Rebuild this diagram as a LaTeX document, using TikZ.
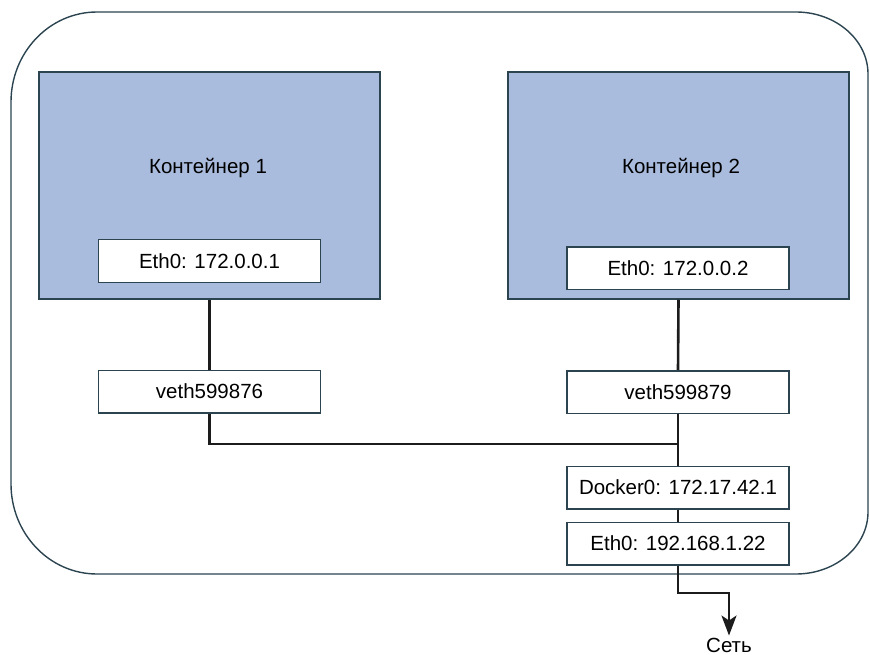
\documentclass[tikz,border=0pt]{standalone}
\usepackage{fontspec}
\setmainfont{Liberation Sans}
\usetikzlibrary{arrows.meta,calc}
\definecolor{contfill}{HTML}{A9BCDD}
\definecolor{boxline}{HTML}{2B4450}
\definecolor{wire}{HTML}{1C1C1C}
\begin{document}
\begin{tikzpicture}[x=1pt,y=-1pt,
  container/.style={draw=boxline,line width=1.5pt,fill=contfill,minimum width=341pt,minimum height=227pt,inner sep=0pt},
  ifbox/.style={draw=boxline,line width=1.5pt,fill=white,minimum width=222pt,minimum height=42.5pt,inner sep=0pt,font=\fontsize{20.5}{24}\selectfont},
  lbl/.style={font=\fontsize{20.5}{24}\selectfont,inner sep=0pt},
  wireline/.style={draw=wire,line width=2.6pt},
  outer/.style={draw=boxline,line width=1.4pt}]
\useasboundingbox (0,0) rectangle (870,655);
% outer rounded frame
\draw[outer] (97,12) -- (796,12)
  .. controls (835.7,12) and (868,39.8) .. (868,74)
  -- (868,512)
  .. controls (868,546.2) and (835.7,574) .. (796,574)
  -- (97,574)
  .. controls (49.5,574) and (11,533.7) .. (11,484)
  -- (11,102)
  .. controls (11,52.3) and (49.5,12) .. (97,12) -- cycle;
% containers
\node[container] (c1) at (209.5,185.5) {};
\node[container] (c2) at (678.5,185.5) {};
\node[lbl] (t1) at (208,168) {Контейнер 1};
\node[lbl] (t2) at (681,168) {Контейнер 2};
\node[ifbox] (e1) at (209.5,261) {Eth0: 172.0.0.1};
\node[ifbox] (e2) at (678,268) {Eth0: 172.0.0.2};
\node[ifbox] (v1) at (209.5,391.5) {veth599876};
\node[ifbox] (v2) at (678,392) {veth599879};
\node[ifbox] (d0) at (678,487.5) {Docker0: 172.17.42.1};
\node[ifbox] (h0) at (678,543.5) {Eth0: 192.168.1.22};
\node[lbl] (net) at (729,645) {Сеть};
\coordinate (bend) at (678,593);
\coordinate (bus) at (678,444);
% connectors
\draw[wireline] (c1.south) -- (v1.north);
\draw[wireline] (c2.south) -- (v2.north);
\draw[wireline] (v1.south) |- (bus);
\draw[wireline] (v2.south) -- (d0.north);
\draw[wireline] (d0.south) -- (h0.north);
\draw[wireline,-{Stealth[length=20pt,width=15pt,inset=5pt]}] (h0.south) -- (bend) -| ($(net.north)+(0,-2)$);
\end{tikzpicture}
\end{document}
